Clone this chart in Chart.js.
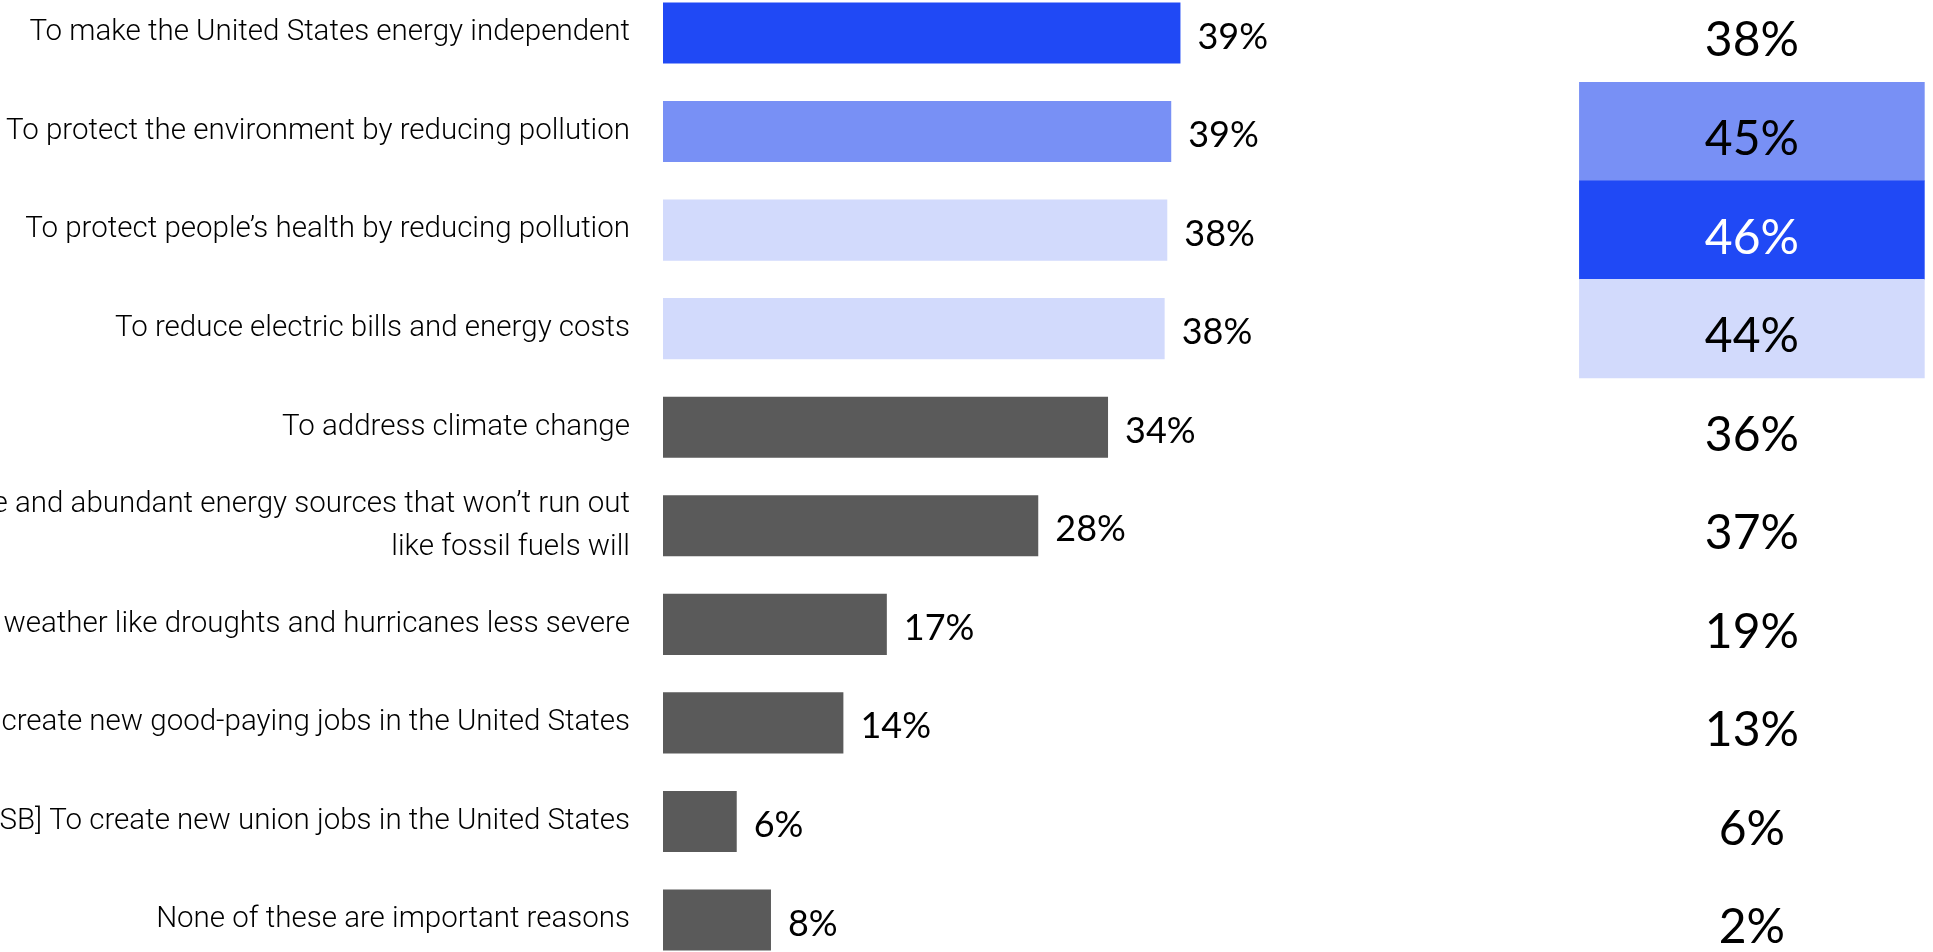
<!DOCTYPE html>
<html>
<head>
<meta charset="utf-8">
<script src="https://cdn.jsdelivr.net/npm/chart.js@4/dist/chart.umd.min.js"></script>
<style>
  html, body { margin: 0; padding: 0; background: #fff; overflow: hidden; }
  #wrap { position: relative; width: 1933px; height: 952px; }
</style>
</head>
<body>
<div id="wrap"><canvas id="chartRazones"></canvas></div>
<script>
// ====== Datos ======
const categorias = [
  'To make the United States energy independent',
  'To protect the environment by reducing pollution',
  'To protect people’s health by reducing pollution',
  'To reduce electric bills and energy costs',
  'To address climate change',
  ['To use renewable and abundant energy sources that won’t run out', 'like fossil fuels will'],
  'To make extreme weather like droughts and hurricanes less severe',
  'To create new good-paying jobs in the United States',
  '[SPLIT SB] To create new union jobs in the United States',
  'None of these are important reasons'
];
const valores = [39.3, 38.6, 38.3, 38.1, 33.8, 28.5, 17.0, 13.7, 5.6, 8.2];
const etiquetas = ['39%', '39%', '38%', '38%', '34%', '28%', '17%', '14%', '6%', '8%'];
const columnaDerecha = [38, 45, 46, 44, 36, 37, 19, 13, 6, 2];

// ====== Estilos ======
const AZUL = '#2049F5';
const AZUL_MEDIO = '#7890F5';
const AZUL_CLARO = '#D2DAFC';
const GRIS = '#5A5A5A';
const VACIO = 'rgba(0,0,0,0)';
const BAR_COLORS = [AZUL, AZUL_MEDIO, AZUL_CLARO, AZUL_CLARO, GRIS, GRIS, GRIS, GRIS, GRIS, GRIS];
const CELL_COLORS = [VACIO, AZUL_MEDIO, AZUL, AZUL_CLARO, VACIO, VACIO, VACIO, VACIO, VACIO, VACIO];
const CELL_TEXT = ['#000', '#000', '#fff', '#000', '#000', '#000', '#000', '#000', '#000', '#000'];
const COL_INICIO = 69.6;   // en unidades del eje x
const COL_FIN = 95.8;

const etiquetasPlugin = {
  id: 'etiquetas',
  afterDatasetsDraw(chart) {
    const ctx = chart.ctx;
    ctx.save();
    ctx.textBaseline = 'middle';

    // valores junto a las barras
    ctx.font = '400 36px Lato';
    ctx.fillStyle = '#000';
    ctx.textAlign = 'left';
    chart.getDatasetMeta(0).data.forEach((bar, i) => {
      ctx.fillText(etiquetas[i], bar.x + 17, bar.y + 4);
    });

    // columna derecha
    ctx.font = '400 48px Lato';
    ctx.textAlign = 'center';
    chart.getDatasetMeta(1).data.forEach((cell, i) => {
      const c = cell.getCenterPoint();
      ctx.fillStyle = CELL_TEXT[i];
      ctx.fillText(columnaDerecha[i] + '%', c.x, c.y + 8);
    });
    ctx.restore();
  }
};

new Chart(document.getElementById('chartRazones'), {
  type: 'bar',
  data: {
    labels: categorias,
    datasets: [
      {
        label: 'Razones',
        data: valores,
        backgroundColor: BAR_COLORS,
        barPercentage: 0.62,
        categoryPercentage: 1,
        grouped: false,
        clip: false
      },
      {
        label: 'Columna',
        data: columnaDerecha.map(() => [COL_INICIO, COL_FIN]),
        backgroundColor: CELL_COLORS,
        barPercentage: 1,
        categoryPercentage: 1,
        grouped: false,
        clip: false
      }
    ]
  },
  options: {
    indexAxis: 'y',
    responsive: true,
    maintainAspectRatio: false,
    animation: false,
    layout: { padding: { top: 33, bottom: 32, left: 0, right: 6 } },
    plugins: {
      legend: { display: false },
      tooltip: { enabled: false }
    },
    scales: {
      x: {
        display: false,
        min: 0,
        max: 96
      },
      y: {
        offset: false,
        grid: { display: false, drawTicks: false },
        border: { display: false },
        afterFit: (scale) => {
          scale.width = 663;
          scale.paddingTop = 0;
          scale.paddingBottom = 0;
        },
        ticks: {
          autoSkip: false,
          padding: 33,
          color: '#000',
          font: { family: 'Roboto', size: 29.5, weight: 300, lineHeight: 1.45 }
        }
      }
    }
  },
  plugins: [etiquetasPlugin]
});
</script>
</body>
</html>
